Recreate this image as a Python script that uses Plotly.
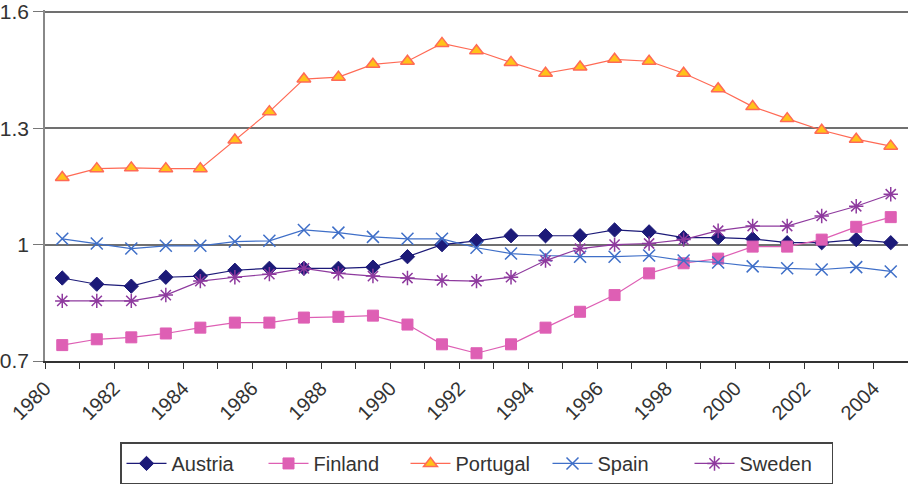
import plotly.graph_objects as go

years = list(range(1980, 2005))
tick_years = list(range(1980, 2005))
tick_labels = [str(y) if y % 2 == 0 else "" for y in tick_years]

austria = [0.914, 0.898, 0.893, 0.916, 0.919, 0.934, 0.939, 0.939, 0.939, 0.942,
           0.969, 1.000, 1.010, 1.023, 1.023, 1.023, 1.038, 1.033, 1.018, 1.018,
           1.015, 1.005, 1.005, 1.013, 1.005]
finland = [0.741, 0.756, 0.761, 0.771, 0.786, 0.799, 0.799, 0.812, 0.814, 0.817,
           0.794, 0.743, 0.720, 0.743, 0.786, 0.827, 0.870, 0.926, 0.952, 0.964,
           0.995, 0.995, 1.013, 1.046, 1.071]
portugal = [1.173, 1.196, 1.198, 1.196, 1.196, 1.270, 1.343, 1.427, 1.432, 1.465,
            1.473, 1.519, 1.500, 1.470, 1.442, 1.458, 1.478, 1.473, 1.442, 1.402,
            1.356, 1.325, 1.295, 1.272, 1.254]
spain = [1.015, 1.003, 0.990, 0.997, 0.997, 1.008, 1.010, 1.038, 1.031, 1.020,
         1.015, 1.015, 0.992, 0.977, 0.972, 0.969, 0.969, 0.972, 0.959, 0.954,
         0.944, 0.939, 0.936, 0.942, 0.931]
sweden = [0.855, 0.855, 0.855, 0.870, 0.906, 0.916, 0.924, 0.939, 0.926, 0.919,
          0.914, 0.908, 0.906, 0.916, 0.959, 0.990, 1.000, 1.003, 1.013, 1.036,
          1.048, 1.048, 1.074, 1.099, 1.130]

y_ticks = [0.7, 1.0, 1.3, 1.6]
y_tick_labels = ["0.7", "1", "1.3", "1.6"]

fig = go.Figure()

def add(name, vals, color, symbol, size, fill=None, lw=1.2, mlw=1):
    fig.add_trace(go.Scatter(
        x=years, y=vals, name=name, mode="lines+markers",
        line=dict(color=color, width=lw),
        marker=dict(symbol=symbol, size=size,
                    color=fill if fill else color,
                    line=dict(color=color, width=mlw)),
    ))

add("Austria", austria, "#1C1A78", "diamond", 11)
add("Finland", finland, "#DE5FB4", "square", 11)
add("Portugal", portugal, "#FF6A55", "triangle-up", 12, fill="#FFC21A", mlw=1.5)
add("Spain", spain, "#3F6FC8", "x-thin", 12, mlw=1.5)
add("Sweden", sweden, "#8E3A9E", "asterisk", 12, mlw=1.5)

fig.update_layout(
    width=908, height=496,
    margin=dict(l=45, r=0, t=5, b=135),
    paper_bgcolor="white", plot_bgcolor="white",
    font=dict(family="Liberation Sans, Arial, sans-serif", color="#333333"),
    showlegend=True,
    legend=dict(orientation="h", x=0.5, xanchor="center", y=-0.232, yanchor="top",
                bordercolor="#444444", borderwidth=1.5, font=dict(size=20),
                itemwidth=40, entrywidth=87, entrywidthmode="pixels",
                tracegroupgap=0),
)

fig.update_xaxes(
    range=[1979.5, 2004.5],
    tickmode="array", tickvals=[y - 0.5 for y in tick_years], ticktext=tick_labels,
    tickangle=-45, tickfont=dict(size=20, color="#333333"),
    ticks="outside", ticklen=6, tickcolor="#333333", tickwidth=1,
    showgrid=False, zeroline=False,
    showline=True, linecolor="#333333", linewidth=1.5,
)
fig.update_yaxes(
    range=[0.7, 1.6051],
    tickmode="array", tickvals=y_ticks, ticktext=y_tick_labels,
    tickfont=dict(size=21, color="#333333"), ticklabeloverflow="allow",
    ticks="outside", ticklen=10, tickcolor="#777777",
    showgrid=True, gridcolor="#707070", gridwidth=1.5,
    zeroline=False, showline=True, linecolor="#888888", linewidth=1.5,
)

fig.write_html("out.html")
